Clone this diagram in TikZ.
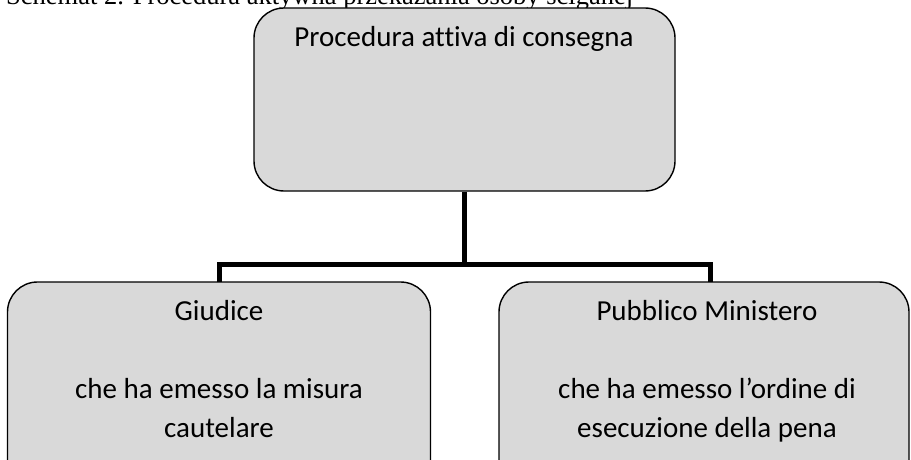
\documentclass[tikz,border=0pt]{standalone}
\usepackage{fontspec}
\setmainfont{Carlito}[Ligatures=CommonOff]
\newfontfamily\hdrfont{Liberation Serif}
\definecolor{boxgray}{HTML}{D9D9D9}
\tikzset{
  boxshape/.style={draw=black, line width=1.4pt, fill=boxgray, rounded corners=30pt, inner sep=0pt},
  conn/.style={draw=black, line width=5pt},
  label/.style={anchor=base, inner sep=0pt, font=\fontsize{29}{35}\selectfont}
}
\begin{document}
\begin{tikzpicture}[x=1pt,y=-1pt]
\useasboundingbox (0,0) rectangle (911,460);
\clip (0,0) rectangle (911,460);
% header (partly cut off, as in the source)
\node[anchor=base west, inner sep=0pt, font=\hdrfont\fontsize{26.5}{30}\selectfont] (hdr) at (6,4.5) {Schemat 2. Procedura aktywna przekazania osoby ściganej};
% boxes
\node[boxshape, minimum width=421pt, minimum height=183pt] (top) at (464.5,99.5) {};
\node[boxshape, minimum width=423pt, minimum height=220pt] (left) at (219,392) {};
\node[boxshape, minimum width=410pt, minimum height=220pt] (right) at (704,392) {};
% texts
\node[label] (t1) at (464,47) {Procedura attiva di consegna};
\node[label] (l1) at (219,320) {Giudice};
\node[label] (l2) at (219,398) {che ha emesso la misura};
\node[label] (l3) at (219,437) {cautelare};
\node[label] (r1) at (707,320) {Pubblico Ministero};
\node[label] (r2) at (707,398) {che ha emesso l’ordine di};
\node[label] (r3) at (707,437) {esecuzione della pena};
% connectors
\coordinate (j) at (top.south |- 0,264);
\coordinate (lc) at (219.5,282);
\coordinate (rc) at (710,282);
\draw[conn] (top.south) -- (j);
\draw[conn] (lc) -- (lc |- j) -- (rc |- j) -- (rc);
\end{tikzpicture}
\end{document}
